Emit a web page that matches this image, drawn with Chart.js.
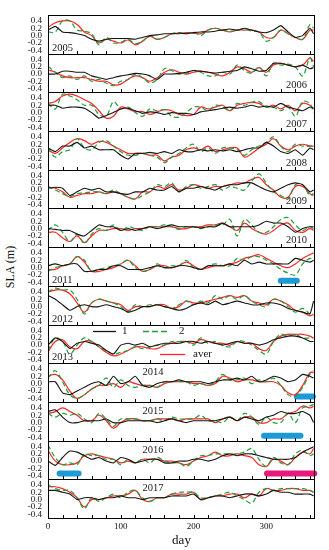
<!DOCTYPE html>
<html>
<head>
<meta charset="utf-8">
<script src="https://cdn.jsdelivr.net/npm/chart.js@4.4.1/dist/chart.umd.min.js"></script>
<style>
  html, body { margin: 0; padding: 0; background: #fff; }
  #wrap { position: relative; width: 329px; height: 550px; overflow: hidden; }
  #wrap canvas { position: absolute; left: 0; }
  #ylab {
    position: absolute; left: -39px; top: 259px; width: 100px; height: 16px;
    line-height: 16px; text-align: center; transform: rotate(-90deg);
    font: 12px 'Liberation Serif', 'Times New Roman', serif; color: #111;
  }
</style>
</head>
<body>
<div id="wrap"><div id="ylab">SLA (m)</div></div>
<script>
// sample days (every 10 days + last day)
const days = [0,10,20,30,40,50,60,70,80,90,100,110,120,130,140,150,160,170,180,190,
              200,210,220,230,240,250,260,270,280,290,300,310,320,330,340,350,360,365];
const years = ['2005','2006','2007','2008','2009','2010','2011','2012','2013','2014','2015','2016','2017'];
const yTicks = [-0.4, -0.2, 0, 0.2, 0.4];
const xTicks = [0, 100, 200, 300];

// series "1" (black), one row per year
const line1 = [
  [0.15,0.25,0.1,0.08,0.05,0.0,-0.1,-0.15,-0.1,-0.08, -0.08,-0.08,-0.1,-0.05,0.0,0.02,0.05,0.05,0.07,0.05, 0.08,0.1,0.1,0.12,0.15,0.18,0.15,0.2,0.15,0.1, 0.08,0.15,0.27,0.1,-0.05,0.0,0.2,0.05],
  [0.0,0.0,0.08,0.08,0.05,0.05,-0.05,-0.1,-0.15,-0.1, -0.05,-0.02,0.02,0.0,-0.05,-0.15,0.0,0.0,0.02,0.05, 0.1,0.08,0.05,0.03,0.05,0.08,0.1,0.2,0.15,0.08, 0.1,0.3,0.3,0.25,0.2,0.25,0.15,0.18],
  [0.2,0.2,0.12,0.15,0.15,0.12,0.0,-0.15,-0.08,0.0, 0.1,0.12,0.05,-0.02,0.02,0.0,-0.05,0.0,-0.02,-0.02, -0.05,0.02,0.05,0.08,0.12,0.15,0.12,0.15,0.2,0.15, 0.18,0.15,0.25,0.15,0.1,0.05,0.15,0.12],
  [0.1,0.0,0.15,0.15,0.25,0.1,0.15,0.05,0.05,0.05, -0.1,-0.2,-0.05,-0.05,-0.02,-0.05,0.0,-0.05,0.05,0.0, 0.0,0.05,0.02,0.05,0.02,0.05,0.0,0.05,0.1,0.1, 0.25,0.15,0.0,-0.05,0.05,-0.1,0.1,0.05],
  [0.05,0.08,0.05,-0.15,-0.05,0.05,0.0,0.05,-0.05,-0.05, -0.1,-0.12,-0.05,-0.05,0.05,0.0,0.0,0.1,-0.05,0.05, 0.05,0.1,0.05,0.0,0.1,0.15,0.15,0.2,0.2,0.1, 0.0,-0.05,0.05,0.15,0.2,0.15,-0.05,0.0],
  [0.0,-0.02,-0.05,-0.05,-0.15,-0.2,-0.05,0.1,0.05,0.05, -0.05,0.0,-0.05,0.0,0.05,0.0,0.05,0.1,0.05,0.05, 0.05,0.02,0.05,0.05,0.15,0.05,0.05,0.05,0.05,0.1, 0.2,0.15,0.15,0.05,-0.1,0.0,0.05,0.05],
  [0.05,0.1,0.05,0.1,0.1,-0.1,-0.1,-0.05,-0.05,0.05, 0.05,-0.05,-0.05,-0.05,0.0,0.05,0.0,0.0,0.05,0.05, 0.0,-0.05,0.05,0.05,0.05,0.1,0.05,0.2,0.1,0.15, 0.1,0.1,0.1,0.1,0.25,0.2,0.15,0.2],
  [0.3,0.2,0.05,-0.1,0.0,0.05,0.0,0.0,0.05,0.0, -0.05,-0.15,-0.1,0.0,0.0,0.05,0.0,-0.05,-0.1,-0.05, 0.05,0.1,0.05,0.15,0.05,0.1,0.15,0.1,0.05,0.05, 0.1,0.1,0.05,-0.05,-0.1,-0.15,-0.2,0.15],
  [0.0,0.2,0.1,-0.1,0.05,0.1,0.05,0.0,-0.15,-0.25, 0.0,0.05,0.0,0.05,-0.05,0.0,0.05,0.05,0.05,0.1, 0.1,0.05,0.1,0.05,0.0,0.05,0.1,0.05,0.05,0.0, 0.05,0.15,0.2,0.25,0.25,0.2,0.1,0.1],
  [0.05,0.05,-0.25,-0.3,-0.2,-0.1,0.0,0.05,-0.05,0.2, 0.0,0.05,0.2,-0.05,-0.1,0.0,0.05,0.05,0.1,0.05, 0.05,0.05,0.0,0.05,0.1,0.1,0.15,0.1,0.2,0.05, 0.1,0.2,0.15,0.05,0.1,0.25,0.2,0.15],
  [0.3,0.35,0.15,0.0,0.0,0.05,0.05,0.05,0.1,0.0, 0.0,0.05,0.05,0.05,0.05,0.0,0.05,0.1,0.05,0.0, 0.05,0.05,0.05,0.05,0.1,0.15,0.05,0.15,0.1,0.05, 0.15,0.2,0.3,0.25,0.25,0.3,0.2,0.0],
  [0.0,-0.12,0.1,0.28,0.25,0.15,0.05,0.1,0.0,-0.05, 0.1,0.05,-0.05,0.0,0.05,0.05,-0.05,-0.05,0.0,0.0, 0.05,0.05,0.0,0.05,0.15,0.2,0.15,0.2,0.2,0.15, 0.1,0.05,0.05,0.05,0.1,0.25,0.35,0.4],
  [0.25,0.25,0.2,0.15,0.0,0.05,0.05,0.0,0.05,0.05, 0.1,0.05,0.05,0.0,0.05,0.05,0.05,0.1,0.1,0.1, 0.15,0.0,0.05,0.1,0.1,0.05,0.1,0.15,0.15,0.1, 0.15,0.25,0.2,0.2,0.15,0.15,0.15,0.1]
];

// series "2" (green dashed)
const line2 = [
  [0.1,0.1,0.4,0.4,0.15,0.12,0.05,-0.25,-0.05,-0.2, -0.18,-0.1,-0.22,-0.15,0.0,-0.1,-0.05,0.05,0.08,0.05, 0.1,0.0,0.15,0.2,0.15,0.12,0.15,0.18,0.12,0.1, -0.15,-0.05,0.15,0.05,-0.05,-0.1,0.3,0.2],
  [0.22,0.05,-0.1,-0.05,-0.15,-0.05,-0.2,-0.15,-0.25,-0.32, -0.2,-0.15,0.0,-0.1,-0.25,-0.15,0.15,0.1,0.0,0.02, 0.1,0.05,-0.05,-0.05,0.05,0.0,0.25,0.1,0.02,0.2, -0.05,0.3,0.25,0.28,0.2,-0.05,0.45,0.2],
  [0.25,0.1,0.5,0.45,0.35,0.2,0.2,-0.05,-0.1,0.3, 0.1,0.15,0.0,-0.1,0.1,0.05,0.08,-0.1,-0.12,0.0, 0.15,0.15,0.05,0.2,0.15,0.05,0.25,0.2,0.28,0.3, 0.15,0.15,0.05,0.15,-0.1,0.3,0.25,0.0],
  [0.1,-0.15,0.0,0.05,0.35,0.1,0.05,0.25,0.3,0.15, 0.0,-0.1,-0.1,-0.05,-0.1,-0.15,-0.3,-0.15,-0.05,0.1, 0.2,0.0,0.1,-0.05,0.1,0.1,0.05,-0.1,0.05,0.15, 0.25,0.4,0.15,0.0,0.2,0.15,0.15,0.2],
  [0.1,0.0,-0.1,-0.18,-0.1,-0.08,-0.05,-0.05,-0.1,0.0, -0.1,-0.2,-0.25,-0.15,-0.05,0.15,0.1,0.2,-0.05,0.1, 0.15,0.05,0.1,0.15,0.0,0.1,0.05,0.0,0.25,0.45, 0.2,-0.05,-0.15,-0.25,0.15,0.15,-0.15,-0.1],
  [-0.05,0.1,-0.1,-0.35,-0.15,-0.4,-0.15,0.0,-0.05,0.1, -0.05,0.05,0.0,-0.05,0.05,0.05,0.1,0.05,-0.02,0.05, 0.05,0.0,0.05,0.1,0.1,0.25,-0.2,0.25,0.1,-0.1, -0.1,0.05,0.25,0.3,0.1,-0.05,0.05,0.0],
  [-0.1,0.0,0.05,0.1,0.3,0.2,-0.1,-0.05,0.0,0.05, 0.1,0.2,0.0,-0.1,-0.05,0.1,0.0,0.05,0.05,0.2, 0.0,-0.05,0.05,0.1,0.05,0.05,0.25,0.2,0.3,0.3, 0.2,0.1,-0.05,-0.15,-0.2,0.1,0.25,0.2],
  [0.4,0.5,0.45,0.45,0.2,-0.2,0.1,0.2,0.15,0.1, 0.0,-0.15,0.05,0.0,0.05,0.05,0.0,-0.05,0.05,0.15, 0.05,0.15,0.1,0.3,0.2,0.3,0.2,0.3,0.15,0.05, 0.0,0.2,0.15,0.0,-0.15,-0.05,-0.2,-0.25],
  [-0.15,0.2,0.1,-0.25,0.0,0.2,0.1,-0.05,-0.15,-0.25, -0.2,-0.15,-0.05,-0.1,-0.05,0.0,0.0,0.1,0.1,0.1, 0.0,0.2,0.05,0.1,0.0,-0.05,0.1,0.1,0.0,-0.15, -0.25,0.1,0.3,0.25,0.3,0.2,0.2,0.2],
  [0.15,0.35,0.05,-0.3,-0.4,-0.3,-0.15,-0.05,0.15,-0.1, 0.1,-0.05,-0.1,-0.05,-0.05,-0.1,0.05,0.05,0.05,0.05, -0.05,0.0,-0.05,0.05,0.25,0.1,0.1,0.15,0.0,0.1, 0.05,0.15,-0.05,-0.3,-0.35,-0.1,0.25,0.35],
  [0.25,0.15,0.25,0.2,0.25,0.1,0.0,0.25,0.1,-0.1, 0.1,0.1,0.1,0.05,0.05,0.1,0.05,0.15,0.1,0.1, 0.1,0.2,0.05,0.05,0.0,0.15,0.05,0.25,0.15,-0.05, 0.15,0.0,0.0,0.25,0.0,0.4,0.45,0.5],
  [0.45,0.1,-0.1,-0.05,-0.1,0.2,0.15,0.15,0.05,0.05, -0.1,0.05,-0.05,0.05,-0.05,0.1,0.0,-0.05,-0.05,-0.15, 0.0,0.15,0.15,0.2,0.2,0.2,0.2,0.25,0.35,0.05, -0.15,0.1,-0.05,-0.1,0.2,0.3,0.15,0.2],
  [0.4,0.3,0.25,0.25,0.05,-0.25,0.05,-0.05,0.05,0.15, 0.05,0.2,0.25,0.05,-0.05,0.05,0.05,0.15,0.2,0.2, 0.2,0.05,0.05,0.1,0.15,0.2,0.1,0.0,-0.1,0.2, 0.3,0.25,0.3,0.3,0.3,0.3,0.25,0.2]
];

// series "aver" (red)
const aver = [
  [0.22,0.35,0.4,0.4,0.3,0.1,0.0,-0.2,-0.1,-0.15, -0.2,-0.12,-0.25,-0.15,-0.02,-0.1,-0.05,0.05,0.05,0.08, 0.07,0.05,0.15,0.2,0.15,0.1,0.15,0.15,0.15,0.1, -0.05,-0.05,0.15,0.05,-0.05,-0.1,0.15,0.15],
  [0.12,0.05,-0.05,-0.1,-0.1,-0.1,-0.15,-0.2,-0.2,-0.3, -0.28,-0.15,-0.05,-0.1,-0.2,-0.1,0.05,0.12,0.05,0.0, 0.05,0.08,0.05,0.0,-0.05,0.05,0.2,0.15,0.05,0.18, 0.05,0.25,0.3,0.25,0.2,0.25,0.45,0.35],
  [0.25,0.3,0.45,0.5,0.45,0.35,0.25,0.05,-0.15,-0.1, 0.15,0.1,0.03,0.03,-0.05,0.02,0.08,0.05,-0.05,-0.08, -0.05,0.15,0.1,0.15,0.2,0.05,0.2,0.25,0.28,0.25, 0.15,0.2,0.1,0.2,0.05,0.25,0.2,0.1],
  [0.05,-0.05,0.1,0.25,0.35,0.3,0.2,0.28,0.25,0.15, 0.05,-0.05,-0.05,-0.05,-0.1,-0.1,-0.25,-0.15,-0.1,0.05, 0.1,0.05,0.15,0.0,0.05,0.1,0.1,-0.15,-0.05,0.1, 0.2,0.35,0.15,0.05,0.15,0.2,0.15,0.15],
  [0.08,0.05,-0.05,-0.2,-0.15,-0.1,-0.1,-0.05,-0.1,-0.05, -0.1,-0.2,-0.25,-0.05,-0.05,0.1,0.05,0.15,0.0,0.05, 0.15,0.1,0.05,0.1,0.1,0.15,0.2,0.2,0.3,0.35, 0.15,0.0,-0.2,-0.2,0.1,0.1,-0.1,-0.15],
  [-0.1,-0.1,-0.25,-0.35,-0.2,-0.38,-0.2,-0.05,-0.05,0.0, 0.0,-0.05,0.0,0.0,0.05,0.05,0.05,0.05,0.0,0.0, 0.05,0.05,0.1,0.1,0.15,0.05,-0.05,0.15,0.0,-0.1, -0.15,-0.05,0.1,0.15,-0.05,-0.1,0.0,-0.05],
  [-0.05,-0.05,0.05,0.1,0.3,0.15,-0.1,-0.1,-0.05,0.0, 0.1,0.2,0.05,-0.1,-0.05,0.05,0.05,0.0,0.05,0.15, 0.05,-0.05,0.0,0.05,0.05,0.1,0.15,0.25,0.3,0.35, 0.25,0.15,0.05,0.0,0.1,0.25,0.35,0.4],
  [0.4,0.45,0.45,0.35,0.1,-0.15,0.1,0.2,0.15,0.1, 0.05,-0.1,0.0,0.0,0.0,0.05,0.05,-0.05,0.0,0.15, 0.1,0.1,0.15,0.2,0.25,0.3,0.25,0.3,0.15,0.1, 0.05,0.2,0.15,0.05,-0.1,-0.15,-0.25,-0.2],
  [-0.2,0.1,0.15,-0.05,-0.1,0.1,0.1,-0.05,-0.2,-0.3, -0.25,-0.15,-0.05,-0.05,-0.1,-0.1,0.0,0.05,0.1,0.1, 0.05,0.15,0.1,0.05,0.05,0.0,0.1,0.05,0.05,-0.1, -0.15,0.1,0.25,0.3,0.3,0.3,0.25,0.2],
  [0.2,0.25,0.1,-0.2,-0.4,-0.3,-0.15,-0.05,-0.05,0.0, -0.1,0.05,0.0,-0.05,-0.05,-0.1,0.0,0.05,0.05,0.05, 0.0,0.0,-0.05,0.0,0.2,0.15,0.05,0.1,0.1,0.05, 0.05,0.05,-0.05,-0.25,-0.3,-0.05,0.3,0.3],
  [0.25,0.3,0.4,0.3,0.2,0.05,0.05,0.2,0.05,-0.15, 0.0,0.1,0.1,0.05,0.05,0.1,0.1,0.1,0.05,0.1, 0.1,0.1,0.1,0.0,0.1,0.15,0.05,0.15,0.15,0.0, 0.0,0.1,0.1,0.25,0.3,0.45,0.4,0.45],
  [0.3,0.0,-0.1,-0.1,-0.05,0.15,0.2,0.15,0.1,0.05, -0.05,0.0,-0.05,0.05,0.05,0.05,0.0,0.0,-0.05,-0.1, 0.0,0.1,0.15,0.25,0.15,0.15,0.2,0.15,0.1,-0.1, -0.15,0.05,0.0,-0.1,0.1,0.25,0.2,0.35],
  [0.35,0.35,0.3,0.2,0.05,-0.2,0.0,0.0,0.05,0.1, 0.1,0.15,0.25,0.0,-0.05,0.05,0.05,0.15,0.15,0.15, 0.2,0.0,0.05,0.1,0.1,0.15,0.15,0.05,0.15,0.1, 0.3,0.25,0.25,0.3,0.3,0.25,0.25,0.2]
];

// marked periods (thick bars)
const periodYear  = ['2011', '2014', '2015', '2016', '2016'];
const periodStart = [320, 342, 297, 16, 301];
const periodEnd   = [342, 364, 347, 42, 366];
const periodLevel = [-0.36, -0.35, -0.36, -0.35, -0.35];
const periodKind  = ['cyan', 'cyan', 'cyan', 'cyan', 'magenta'];

// where each year label sits inside its panel
const yearCorner = ['bl','br','br','br','br','br','bl','bl','bl','tc','tc','tc','tc'];

const COLORS = { l1: '#151515', l2: '#1f9e3a', aver: '#ff2424', cyan: '#1b9ad6', magenta: '#e8197c' };
const SERIF = "'Liberation Serif', 'Times New Roman', serif";
Chart.defaults.font.family = SERIF;
Chart.defaults.color = '#111';

const PANEL_TOP = 15, PANEL_BOTTOM = 518, PAD = 6, W = 329, H = 550;
const edges = years.map((_, i) => Math.round(PANEL_TOP + i * (PANEL_BOTTOM - PANEL_TOP) / years.length));
edges.push(PANEL_BOTTOM);

const panelDeco = {
  id: 'panelDeco',
  afterDatasetsDraw(chart, args, opts) {
    const { ctx, chartArea: a, scales: { x } } = chart;
    ctx.save();
    ctx.strokeStyle = '#000';
    ctx.lineWidth = 1;
    ctx.strokeRect(a.left + 0.5, a.top + 0.5, a.right - a.left - 1, a.bottom - a.top);
    // small inward ticks every 20 days
    ctx.beginPath();
    for (let d = 20; d < 366; d += 20) {
      const px = Math.round(x.getPixelForValue(d)) + 0.5;
      ctx.moveTo(px, a.bottom);
      ctx.lineTo(px, a.bottom - 3);
    }
    ctx.stroke();

    // year label
    ctx.fillStyle = '#1a1a1a';
    ctx.font = '10.5px ' + SERIF;
    ctx.textBaseline = 'middle';
    if (opts.corner === 'bl') { ctx.textAlign = 'left'; ctx.fillText(opts.year, a.left + 4, a.bottom - 5.5); }
    else if (opts.corner === 'br') { ctx.textAlign = 'right'; ctx.fillText(opts.year, a.right - 8, a.bottom - 6.5); }
    else { ctx.textAlign = 'center'; ctx.fillText(opts.year, a.left + 105, a.top + 9); }

    // legend lives in the 2013 panel
    if (opts.legend) {
      ctx.font = '11px ' + SERIF;
      ctx.textAlign = 'left';
      const items = [
        { c: COLORS.l1, dash: [], x0: 45, x1: 68, y: 6.5, label: '1', tx: 74 },
        { c: COLORS.l2, dash: [6, 3], x0: 95, x1: 122, y: 6.5, label: '2', tx: 131 },
        { c: COLORS.aver, dash: [], x0: 112, x1: 137, y: 29.5, label: 'aver', tx: 145 }
      ];
      items.forEach(it => {
        ctx.strokeStyle = it.c;
        ctx.lineWidth = 1.3;
        ctx.setLineDash(it.dash);
        ctx.beginPath();
        ctx.moveTo(a.left + it.x0, a.top + it.y);
        ctx.lineTo(a.left + it.x1, a.top + it.y);
        ctx.stroke();
        ctx.setLineDash([]);
        ctx.fillText(it.label, a.left + it.tx, a.top + it.y);
      });
    }
    ctx.restore();
  }
};

const wrap = document.getElementById('wrap');

years.forEach((year, i) => {
  const last = i === years.length - 1;
  const ph = edges[i + 1] - edges[i];
  const top = edges[i] - PAD;
  const ch = last ? H - top : ph + 2 * PAD;
  const canvas = document.createElement('canvas');
  canvas.width = W;
  canvas.height = ch;
  canvas.style.top = top + 'px';
  wrap.appendChild(canvas);

  const pts = vals => days.map((d, k) => ({ x: d, y: vals[k] }));
  const datasets = [
    { label: '1', data: pts(line1[i]), borderColor: COLORS.l1, borderWidth: 1.1, tension: 0.15 },
    { label: '2', data: pts(line2[i]), borderColor: COLORS.l2, borderWidth: 1.2, borderDash: [5, 3], tension: 0.35 },
    { label: 'aver', data: pts(aver[i]), borderColor: COLORS.aver, borderWidth: 1.2, tension: 0.4 }
  ];
  periodYear.forEach((py, k) => {
    if (py !== year) return;
    datasets.push({
      label: 'period',
      data: [{ x: periodStart[k], y: periodLevel[k] }, { x: periodEnd[k], y: periodLevel[k] }],
      borderColor: COLORS[periodKind[k]],
      borderWidth: 6,
      borderCapStyle: 'round',
      clip: false
    });
  });

  new Chart(canvas, {
    type: 'line',
    data: { datasets },
    plugins: [panelDeco],
    options: {
      responsive: false,
      animation: false,
      events: [],
      layout: { padding: { top: PAD, bottom: last ? 0 : PAD, left: 0, right: 14 } },
      elements: { point: { radius: 0 } },
      plugins: {
        legend: { display: false },
        tooltip: { enabled: false },
        panelDeco: { year, corner: yearCorner[i], legend: year === '2013' }
      },
      scales: {
        x: {
          type: 'linear', min: 0, max: 367,
          display: last,
          afterFit: s => { s.height = last ? ch - PAD - ph : 0; s.paddingLeft = 0; s.paddingRight = 0; },
          afterBuildTicks: s => { s.ticks = xTicks.map(v => ({ value: v })); },
          grid: { drawOnChartArea: false, drawTicks: false },
          border: { display: false },
          ticks: { padding: 3, maxRotation: 0, autoSkip: false, font: { size: 9 }, color: '#111' },
          title: { display: true, text: 'day', font: { size: 13 }, color: '#111', padding: { top: 0, bottom: 2 } }
        },
        y: {
          min: -0.5, max: 0.56,
          afterFit: s => { s.width = 48; s.paddingTop = 0; s.paddingBottom = 0; },
          afterBuildTicks: s => { s.ticks = yTicks.map(v => ({ value: v })); },
          grid: { drawOnChartArea: false, drawTicks: false },
          border: { display: false },
          ticks: { padding: 6, autoSkip: false, font: { size: 9 }, color: '#111', callback: v => v.toFixed(1) }
        }
      }
    }
  });
});
</script>
</body>
</html>
